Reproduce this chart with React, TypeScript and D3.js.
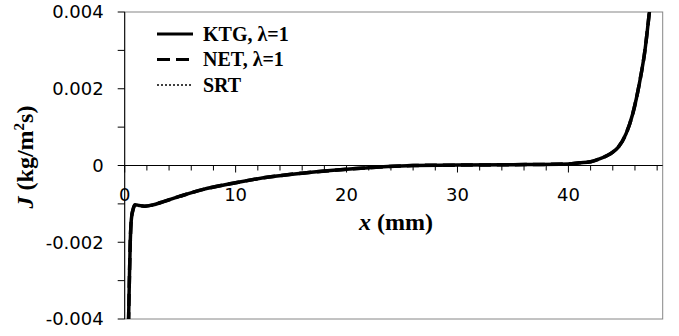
import { useEffect, useRef } from 'react';
import * as d3 from 'd3';

// x position (mm) and mass flux J (kg/m2s)
const xs = [0.3, 0.35, 0.42, 0.5, 0.6, 0.75, 0.95, 1.3, 1.8, 2.5, 3.5, 5, 7, 10, 13, 16, 20, 23, 26, 30, 35, 40, 41, 42, 42.5, 43.5, 44, 44.5, 45.2, 45.8, 46.4, 46.9, 47.3, 47.6];
const ktg = [-0.0046, -0.004, -0.003, -0.002, -0.0014, -0.00115, -0.00102, -0.00104, -0.00106, -0.00103, -0.00094, -0.0008, -0.00063, -0.00045, -0.0003, -0.0002, -0.0001, -0.00004, 0, 0.00001, 0.00002, 0.00004, 0.00007, 0.0001, 0.00014, 0.00026, 0.00035, 0.00048, 0.00083, 0.00135, 0.00214, 0.003, 0.004, 0.0048];
const net = [-0.0046, -0.004, -0.003, -0.002, -0.0014, -0.00115, -0.00102, -0.00104, -0.00106, -0.00103, -0.00094, -0.0008, -0.00063, -0.00045, -0.0003, -0.0002, -0.0001, -0.00004, 0, 0.00001, 0.00002, 0.00004, 0.00007, 0.0001, 0.00014, 0.00026, 0.00035, 0.00048, 0.00083, 0.00135, 0.00214, 0.003, 0.004, 0.0048];
const srt = [-0.0046, -0.004, -0.003, -0.002, -0.0014, -0.00115, -0.00102, -0.00104, -0.00106, -0.00103, -0.00094, -0.0008, -0.00063, -0.00045, -0.0003, -0.0002, -0.0001, -0.00004, 0, 0.00001, 0.00002, 0.00004, 0.00007, 0.0001, 0.00014, 0.00026, 0.00035, 0.00048, 0.00083, 0.00135, 0.00214, 0.003, 0.004, 0.0048];

const yTicks = [-0.004, -0.002, 0, 0.002, 0.004];
const yTickLabels = ['-0.004', '-0.002', '0', '0.002', '0.004'];
const xTicks = [0, 10, 20, 30, 40];
const legendNames = ['KTG, λ=1', 'NET, λ=1', 'SRT'];

export default function App() {
  const svgRef = useRef<SVGSVGElement>(null);

  useEffect(() => {
    if (!svgRef.current) return;
    const svg = d3.select(svgRef.current);
    svg.selectAll('*').remove();

    const left = 124.7, right = 662.7, top = 12, bottom = 319;
    const x = d3.scaleLinear().domain([0, 48.5]).range([left, right]);
    const y = d3.scaleLinear().domain([-0.004, 0.004]).range([bottom, top]);
    const tickFont = '"DejaVu Sans", sans-serif';
    const serif = '"Liberation Serif", "Times New Roman", serif';

    svg.append('defs').append('clipPath').attr('id', 'plotClip')
      .append('rect').attr('x', left).attr('y', top).attr('width', right - left).attr('height', bottom - top);

    // plot frame (grey) and axes (black)
    svg.append('rect').attr('x', left).attr('y', top).attr('width', right - left).attr('height', bottom - top)
      .attr('fill', 'none').attr('stroke', '#868686').attr('stroke-width', 1);
    svg.append('line').attr('x1', left).attr('x2', left).attr('y1', top).attr('y2', bottom)
      .attr('stroke', '#000').attr('stroke-width', 1);
    svg.append('line').attr('x1', left).attr('x2', right).attr('y1', y(0)).attr('y2', y(0))
      .attr('stroke', '#000').attr('stroke-width', 1);

    // y ticks every 0.001
    for (let v = -0.004; v <= 0.0040001; v += 0.001) {
      svg.append('line').attr('x1', left - 7).attr('x2', left).attr('y1', y(v)).attr('y2', y(v))
        .attr('stroke', '#000').attr('stroke-width', 1);
    }
    yTicks.forEach((v, i) => {
      svg.append('text').attr('x', left - 21).attr('y', y(v)).attr('dy', '0.36em')
        .attr('text-anchor', 'end').attr('font-family', tickFont).attr('font-size', 18)
        .attr('fill', '#000').text(yTickLabels[i]);
    });

    // x ticks every 2 mm on the zero line
    for (let v = 0; v <= 48; v += 2) {
      svg.append('line').attr('x1', x(v)).attr('x2', x(v)).attr('y1', y(0)).attr('y2', y(0) + (v % 10 === 0 ? 7 : 5))
        .attr('stroke', '#000').attr('stroke-width', 1);
    }
    xTicks.forEach(v => {
      svg.append('text').attr('x', x(v)).attr('y', y(0) + 29).attr('dy', '0.36em')
        .attr('text-anchor', 'middle').attr('font-family', tickFont).attr('font-size', 18)
        .attr('fill', '#000').text(v);
    });

    // axis titles
    const xt = svg.append('text').attr('x', 396).attr('y', 230).attr('text-anchor', 'middle')
      .attr('font-family', serif).attr('font-size', 24).attr('font-weight', 'bold').attr('fill', '#000');
    xt.append('tspan').attr('font-style', 'italic').text('x');
    xt.append('tspan').text(' (mm)');

    const yt = svg.append('text').attr('transform', `translate(33,${157}) rotate(-90)`).attr('text-anchor', 'middle')
      .attr('font-family', serif).attr('font-size', 24).attr('font-weight', 'bold').attr('fill', '#000');
    yt.append('tspan').attr('font-style', 'italic').text('J');
    yt.append('tspan').text(' (kg/m');
    yt.append('tspan').attr('font-size', 15).attr('dy', -9).text('2');
    yt.append('tspan').attr('dy', 9).text('s)');

    // series
    const styles = [
      { data: ktg, dash: null, width: 3.5 },
      { data: net, dash: '12,6', width: 3.5 },
      { data: srt, dash: '2,2', width: 1.5 },
    ];
    const line = d3.line<number>()
      .x((_, i) => x(xs[i]))
      .y(d => y(d))
      .curve(d3.curveMonotoneX);
    const plot = svg.append('g').attr('clip-path', 'url(#plotClip)');
    styles.forEach(s => {
      plot.append('path').datum(s.data).attr('d', line as any)
        .attr('fill', 'none').attr('stroke', '#000').attr('stroke-width', s.width)
        .attr('stroke-linejoin', 'round')
        .attr('stroke-dasharray', s.dash);
    });

    // legend
    const legY = [34, 59.5, 85];
    legendNames.forEach((name, i) => {
      const st = styles[i];
      svg.append('line').attr('x1', 157).attr('x2', 193).attr('y1', legY[i]).attr('y2', legY[i])
        .attr('stroke', '#000').attr('stroke-width', i === 2 ? 1.5 : 3)
        .attr('stroke-dasharray', i === 1 ? '13,6' : i === 2 ? '2,2' : null);
      svg.append('text').attr('x', 203).attr('y', legY[i]).attr('dy', '0.33em')
        .attr('font-family', serif).attr('font-size', 20).attr('font-weight', 'bold')
        .attr('fill', '#000').text(name);
    });
  }, []);

  return (
    <svg ref={svgRef} width={679} height={336}
      style={{ position: 'absolute', left: 0, top: 0, background: '#fff' }} />
  );
}
